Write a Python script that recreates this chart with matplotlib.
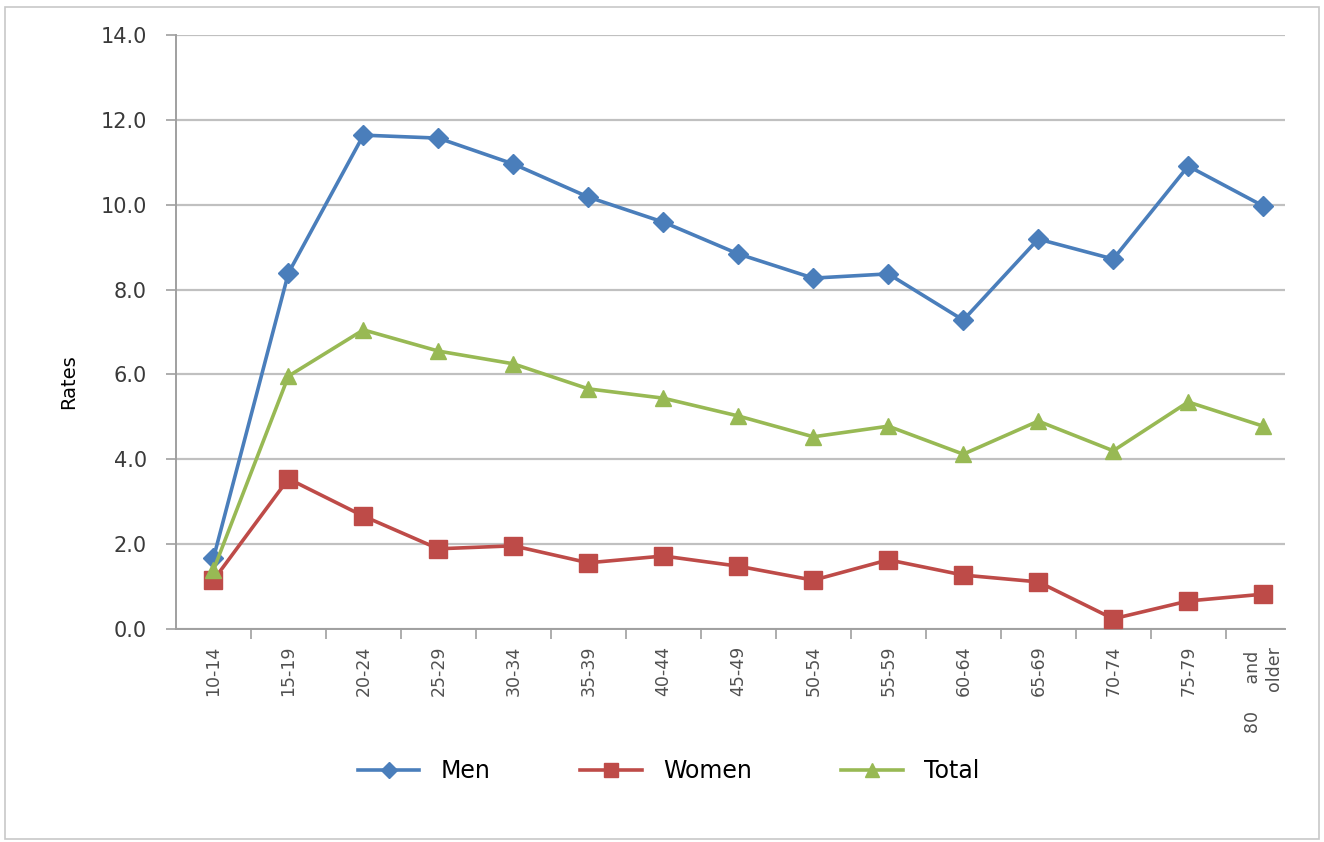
import numpy as np
import matplotlib
matplotlib.use("Agg")
import matplotlib.pyplot as plt
from matplotlib.patches import Rectangle

age_groups = ["10-14", "15-19", "20-24", "25-29", "30-34", "35-39", "40-44",
              "45-49", "50-54", "55-59", "60-64", "65-69", "70-74", "75-79",
              "80     and \nolder"]
men = [1.67, 8.39, 11.64, 11.57, 10.96, 10.18, 9.59, 8.84, 8.27, 8.37, 7.28,
       9.19, 8.72, 10.91, 9.97]
women = [1.15, 3.54, 2.66, 1.89, 1.96, 1.56, 1.72, 1.48, 1.15, 1.63, 1.27,
         1.11, 0.24, 0.66, 0.82]
total = [1.39, 5.96, 7.05, 6.55, 6.25, 5.66, 5.44, 5.02, 4.53, 4.78, 4.12,
         4.90, 4.20, 5.35, 4.78]
y_ticks = [0, 2, 4, 6, 8, 10, 12, 14]

plt.rcParams['font.family'] = ['DejaVu Sans']

fig = plt.figure(figsize=(13.24, 8.42), dpi=100)
ax = fig.add_axes([0.1329, 0.253, 0.8376, 0.7054])

# thin frame round the whole chart
fig.patches.append(Rectangle((0.004, 0.004), 0.992, 0.988, transform=fig.transFigure,
                             fill=False, edgecolor='#c8c8c8', lw=1.2))

x = np.arange(len(age_groups))
ax.plot(x, men, color='#4a7ebb', lw=2.6, marker='D', ms=10, label='Men', zorder=3)
ax.plot(x, women, color='#be4b48', lw=2.6, marker='s', ms=13, label='Women', zorder=3)
ax.plot(x, total, color='#98b954', lw=2.6, marker='^', ms=12, label='Total', zorder=3)

ax.set_ylim(0, 14)
ax.set_xlim(-0.5, 14.29)
ax.set_yticks(y_ticks)
ax.set_yticklabels([f"{v:.1f}" for v in y_ticks], fontsize=15, color='#3a3a3a')
ax.grid(axis='y', color='#c0c0c0', lw=1.6)
ax.set_axisbelow(True)

# category labels, ticks at boundaries
ax.set_xticks(x)
ax.set_xticklabels(age_groups, rotation=90, fontsize=12.5, color='#505050',
                   va='top', ha='center', multialignment='right')
ax.tick_params(axis='x', length=0, pad=12)
ax.set_xticks(np.arange(0.5, len(age_groups) - 1, 1), minor=True)
ax.tick_params(axis='x', which='minor', length=7, color='#a0a0a0', width=1.2)
ax.tick_params(axis='y', length=7, color='#a0a0a0', width=1.2, pad=14)

for s in ['top', 'right']:
    ax.spines[s].set_visible(False)
ax.spines['left'].set_color('#a0a0a0')
ax.spines['left'].set_linewidth(1.4)
ax.spines['bottom'].set_color('#a0a0a0')
ax.spines['bottom'].set_linewidth(1.4)

ax.set_ylabel('Rates', fontsize=14)
ax.yaxis.set_label_coords(-0.088, 0.416)

fig.legend(loc='center', bbox_to_anchor=(0.505, 0.084), ncol=3, frameon=False,
           fontsize=17, handlelength=2.6, columnspacing=3.8, handletextpad=0.9,
           markerscale=0.8)

fig.savefig('out.png', dpi=100)
